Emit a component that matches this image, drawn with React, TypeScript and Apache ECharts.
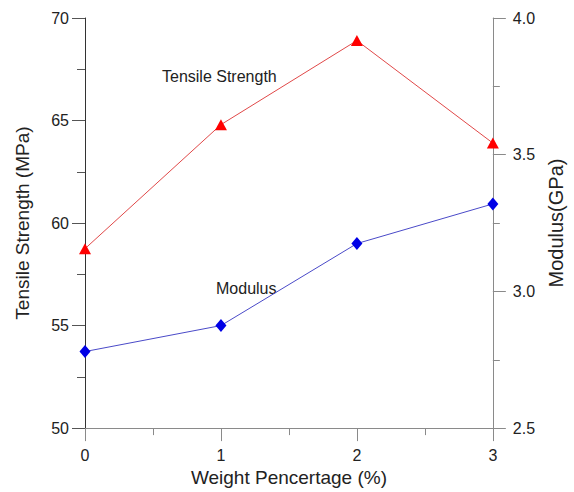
import React, { useEffect, useRef } from "react";
import * as echarts from "echarts";

// Filler weight percentage (x) and the two measured properties
const weightPct = [0, 1, 2, 3];
const tensileStrength = [58.75, 64.8, 68.9, 63.9]; // MPa
const modulus = [2.78, 2.875, 3.175, 3.32]; // GPa

const leftTicks = [50, 55, 60, 65, 70];
const rightTicks = [2.5, 3.0, 3.5, 4.0];

const FONT = "'Liberation Sans', Arial, Helvetica, sans-serif";
const TEXT = "#222";

export default function App() {
  const ref = useRef<HTMLDivElement>(null);

  useEffect(() => {
    if (!ref.current) return;
    const chart = echarts.init(ref.current, null, { renderer: "svg" });

    const strengthPts = weightPct.map((w, i) => [w, tensileStrength[i]]);
    const modulusPts = weightPct.map((w, i) => [w, modulus[i]]);

    chart.setOption({
      animation: false,
      backgroundColor: "#fff",
      textStyle: { fontFamily: FONT },
      grid: { left: 85, right: 77, top: 18, bottom: 59, containLabel: false },
      xAxis: {
        type: "value",
        min: 0,
        max: 3,
        interval: 1,
        name: "Weight Pencertage (%)",
        nameLocation: "middle",
        nameGap: 38,
        nameTextStyle: { fontSize: 19, color: TEXT, fontFamily: FONT },
        axisLine: { show: true, lineStyle: { color: "#8a8a8a", width: 1 } },
        axisTick: { show: true, inside: false, length: 13, lineStyle: { color: "#8a8a8a" } },
        minorTick: { show: true, splitNumber: 2, length: 7, lineStyle: { color: "#8a8a8a" } },
        splitLine: { show: false },
        axisLabel: { margin: 19, fontSize: 16, color: TEXT, fontFamily: FONT },
      },
      yAxis: [
        {
          type: "value",
          position: "left",
          min: leftTicks[0],
          max: leftTicks[leftTicks.length - 1],
          interval: 5,
          name: "Tensile Strength (MPa)",
          nameLocation: "middle",
          nameGap: 53,
          nameTextStyle: { fontSize: 19, color: TEXT, fontFamily: FONT },
          axisLine: { show: true, lineStyle: { color: "#333", width: 1 } },
          axisTick: { show: true, inside: false, length: 13, lineStyle: { color: "#555" } },
          minorTick: { show: true, splitNumber: 2, length: 8, lineStyle: { color: "#555" } },
          splitLine: { show: false },
          axisLabel: { margin: 16, fontSize: 16, color: TEXT, fontFamily: FONT },
        },
        {
          type: "value",
          position: "right",
          min: rightTicks[0],
          max: rightTicks[rightTicks.length - 1],
          interval: 0.5,
          name: "Modulus(GPa)",
          nameLocation: "middle",
          nameGap: 50,
          nameRotate: 90,
          nameTextStyle: { fontSize: 20, color: TEXT, fontFamily: FONT },
          axisLine: { show: true, lineStyle: { color: "#8a8a8a", width: 1 } },
          axisTick: { show: true, inside: false, length: 13, lineStyle: { color: "#8a8a8a" } },
          minorTick: { show: true, splitNumber: 2, length: 7, lineStyle: { color: "#8a8a8a" } },
          splitLine: { show: false },
          axisLabel: {
            margin: 20,
            fontSize: 16,
            color: TEXT,
            fontFamily: FONT,
            formatter: (v: number) => v.toFixed(1),
          },
        },
      ],
      series: [
        {
          name: "Tensile Strength",
          type: "line",
          yAxisIndex: 0,
          data: strengthPts,
          symbol: "triangle",
          symbolSize: [12, 11],
          itemStyle: { color: "#ff0000" },
          lineStyle: { color: "#e04848", width: 1 },
          z: 3,
        },
        {
          name: "Modulus",
          type: "line",
          yAxisIndex: 1,
          data: modulusPts,
          symbol: "diamond",
          symbolSize: [11, 13],
          itemStyle: { color: "#0000e6" },
          lineStyle: { color: "#4a4ac8", width: 1 },
          z: 3,
        },
      ],
      graphic: [
        {
          type: "text",
          left: 162,
          top: 68,
          style: { text: "Tensile Strength", fontSize: 16, fill: TEXT, fontFamily: FONT },
        },
        {
          type: "text",
          left: 216,
          top: 280,
          style: { text: "Modulus", fontSize: 16, fill: TEXT, fontFamily: FONT },
        },
      ],
    });

    return () => chart.dispose();
  }, []);

  return (
    <div
      ref={ref}
      style={{ position: "fixed", left: 0, top: 0, width: 574, height: 492, background: "#fff" }}
    />
  );
}
